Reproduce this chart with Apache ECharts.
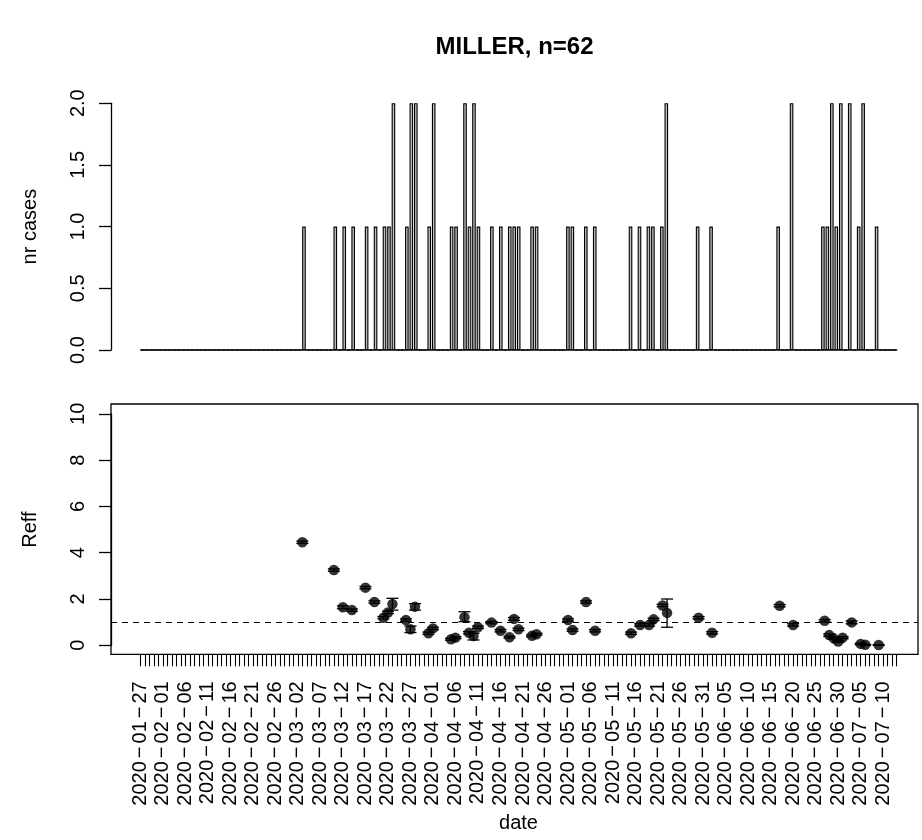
<!DOCTYPE html>
<html><head><meta charset="utf-8">
<script src="https://cdn.jsdelivr.net/npm/echarts@6/dist/echarts.min.js"></script>
<style>html,body{margin:0;padding:0;background:#fff}#c{width:922px;height:840px}</style>
</head><body><div id="c"></div>
<script>
// ---------- data ----------
const titleText = 'MILLER, n=62';
const startDate = '2020-01-27';
const endDate = '2020-07-13';

const caseDates = ['2020-03-03','2020-03-10','2020-03-12','2020-03-14','2020-03-17','2020-03-19','2020-03-21','2020-03-22','2020-03-23','2020-03-26',
  '2020-03-27','2020-03-28','2020-03-31','2020-04-01','2020-04-05','2020-04-06','2020-04-08','2020-04-09','2020-04-10','2020-04-11',
  '2020-04-14','2020-04-16','2020-04-18','2020-04-19','2020-04-20','2020-04-23','2020-04-24','2020-05-01','2020-05-02','2020-05-05',
  '2020-05-07','2020-05-15','2020-05-17','2020-05-19','2020-05-20','2020-05-22','2020-05-23','2020-05-30','2020-06-02','2020-06-17',
  '2020-06-20','2020-06-27','2020-06-28','2020-06-29','2020-06-30','2020-07-01','2020-07-03','2020-07-05','2020-07-06','2020-07-09'];
const caseCounts = [1,1,1,1,1,1,1,1,2,1,
  2,2,1,2,1,1,2,1,2,1,
  1,1,1,1,1,1,1,1,1,1,
  1,1,1,1,1,1,2,1,1,1,
  2,1,1,2,1,2,2,1,2,1];

const reffDates = caseDates;
const reffValues = [4.45,3.25,1.64,1.52,2.49,1.87,1.19,1.42,1.78,1.09,
  0.69,1.67,0.52,0.73,0.26,0.33,1.21,0.54,0.40,0.78,
  0.98,0.63,0.35,1.14,0.69,0.41,0.48,1.09,0.66,1.87,
  0.63,0.52,0.88,0.88,1.12,1.72,1.40,1.19,0.54,1.71,
  0.88,1.06,0.44,0.30,0.16,0.33,0.99,0.06,0.02,0.01];
const reffLow = [4.40,3.20,1.58,1.47,2.44,1.82,1.14,1.37,1.52,1.04,
  0.55,1.52,0.47,0.68,0.22,0.29,1.02,0.49,0.23,0.73,
  0.93,0.58,0.31,1.08,0.64,0.37,0.44,1.04,0.61,1.82,
  0.58,0.47,0.83,0.83,1.07,1.67,0.78,1.14,0.49,1.66,
  0.83,1.01,0.39,0.26,0.12,0.29,0.93,0.03,0.00,0.00];
const reffHigh = [4.50,3.30,1.70,1.57,2.54,1.92,1.24,1.47,2.03,1.14,
  0.83,1.80,0.57,0.78,0.30,0.37,1.45,0.59,0.52,0.83,
  1.03,0.68,0.39,1.20,0.74,0.45,0.52,1.14,0.71,1.92,
  0.68,0.57,0.93,0.93,1.17,1.77,2.00,1.24,0.59,1.76,
  0.93,1.11,0.49,0.34,0.20,0.37,1.05,0.09,0.04,0.02];
const reffThreshold = 1;

const tickLabels = ['2020-01-27','2020-02-01','2020-02-06','2020-02-11','2020-02-16','2020-02-21','2020-02-26','2020-03-02',
  '2020-03-07','2020-03-12','2020-03-17','2020-03-22','2020-03-27','2020-04-01','2020-04-06','2020-04-11','2020-04-16',
  '2020-04-21','2020-04-26','2020-05-01','2020-05-06','2020-05-11','2020-05-16','2020-05-21','2020-05-26','2020-05-31',
  '2020-06-05','2020-06-10','2020-06-15','2020-06-20','2020-06-25','2020-06-30','2020-07-05','2020-07-10'];

// ---------- helpers ----------
const FONT = "'Liberation Sans', Arial, Helvetica, sans-serif";
function toUTC(s){ return Date.UTC(+s.slice(0,4), +s.slice(5,7)-1, +s.slice(8,10)); }
const t0 = toUTC(startDate);
function dayIndex(s){ return Math.round((toUTC(s) - t0) / 86400000); }
const nDays = dayIndex(endDate) + 1;

const allDates = [];
for (let i = 0; i < nDays; i++) {
  const d = new Date(t0 + i * 86400000);
  allDates.push(d.toISOString().slice(0,10));
}
const dailyCounts = allDates.map(() => 0);
caseDates.forEach((s, i) => { dailyCounts[dayIndex(s)] = caseCounts[i]; });

const labelByDay = {};
tickLabels.forEach(s => { labelByDay[dayIndex(s)] = s; });

const reffPoints = reffDates.map((s, i) => [dayIndex(s), reffValues[i]]);
const reffBars = reffDates.map((s, i) => [dayIndex(s), reffLow[i], reffHigh[i]]);

// ---------- chart ----------
const chart = echarts.init(document.getElementById('c'), null, {renderer: 'canvas'});
const black = '#000';
const txt = {color: black, fontFamily: FONT, fontSize: 20};

chart.setOption({
  backgroundColor: '#fff',
  animation: false,
  graphic: [{
    type: 'text', x: 514.5, y: 47,
    style: {text: titleText, fill: black, font: "bold 24px " + FONT, textAlign: 'center', textVerticalAlign: 'middle'}
  }],
  grid: [
    {left: 140.7, top: 103.2, width: 756, height: 246.8},
    {left: 111, top: 404, width: 807, height: 250.3, show: true, borderColor: black, borderWidth: 1.3, backgroundColor: 'transparent'},
    {left: 140.3, top: 413.8, width: 756.4, height: 231.5}
  ],
  xAxis: [
    {gridIndex: 0, type: 'category', data: allDates, boundaryGap: true,
     axisLine: {show: true, onZero: false, lineStyle: {color: black, width: 1.5}}, axisTick: {show: false}, axisLabel: {show: false}, splitLine: {show: false}},
    {gridIndex: 1, type: 'value', min: 0, max: 1, show: false},
    {gridIndex: 2, type: 'value', min: 0, max: nDays - 1, interval: 1, offset: 9,
     axisLine: {show: false, onZero: false}, splitLine: {show: false},
     axisTick: {show: true, inside: false, length: 12, lineStyle: {color: black, width: 1.1}},
     axisLabel: {show: true, rotate: 90, margin: 27, interval: 0, hideOverlap: false, ...txt,
       formatter: v => { const s = labelByDay[v]; return s ? s.split('-').join('{m|\u2212}') : ''; },
       rich: {m: {fontFamily: FONT, fontSize: 20, color: black, padding: [0, 3, 0, 3]}}},
     name: 'date', nameLocation: 'middle', nameGap: 159, nameTextStyle: {...txt}}
  ],
  yAxis: [
    {gridIndex: 0, type: 'value', min: 0, max: 2, interval: 0.5, offset: 29.7,
     axisLine: {show: true, onZero: false, lineStyle: {color: black, width: 1.3}},
     axisTick: {show: true, inside: false, length: 12, lineStyle: {color: black, width: 1.3}},
     axisLabel: {rotate: 90, margin: 23, ...txt, formatter: v => v.toFixed(1)},
     splitLine: {show: false},
     name: 'nr cases', nameLocation: 'middle', nameRotate: 90, nameGap: 71, nameTextStyle: {...txt}},
    {gridIndex: 1, type: 'value', min: -0.4, max: 10.4, show: false},
    {gridIndex: 2, type: 'value', min: 0, max: 10, interval: 2, offset: 29.3,
     axisLine: {show: true, onZero: false, lineStyle: {color: black, width: 1.3}},
     axisTick: {show: true, inside: false, length: 12, lineStyle: {color: black, width: 1.3}},
     axisLabel: {rotate: 90, margin: 23, ...txt},
     splitLine: {show: false},
     name: 'Reff', nameLocation: 'middle', nameRotate: 90, nameGap: 71, nameTextStyle: {...txt}}
  ],
  series: [
    {type: 'bar', xAxisIndex: 0, yAxisIndex: 0, data: dailyCounts, barWidth: 3.6,
     itemStyle: {color: '#bebebe', borderColor: black, borderWidth: 1.1}},
    {type: 'line', xAxisIndex: 1, yAxisIndex: 1, data: [], silent: true,
     markLine: {silent: true, symbol: ['none', 'none'], label: {show: false},
       lineStyle: {color: black, width: 1.2, type: [6, 5]}, data: [{yAxis: reffThreshold}]}},
    {type: 'custom', xAxisIndex: 2, yAxisIndex: 2, data: reffBars, clip: false, z: 3,
     renderItem: (params, api) => {
       const x = api.value(0);
       const pl = api.coord([x, api.value(1)]);
       const ph = api.coord([x, api.value(2)]);
       const w = 6;
       const st = {stroke: black, lineWidth: 1.3};
       return {type: 'group', children: [
         {type: 'line', shape: {x1: pl[0], y1: pl[1], x2: ph[0], y2: ph[1]}, style: st},
         {type: 'line', shape: {x1: pl[0]-w, y1: pl[1], x2: pl[0]+w, y2: pl[1]}, style: st},
         {type: 'line', shape: {x1: ph[0]-w, y1: ph[1], x2: ph[0]+w, y2: ph[1]}, style: st}
       ]};
     }},
    {type: 'scatter', xAxisIndex: 2, yAxisIndex: 2, data: reffPoints, symbol: 'circle', symbolSize: 10.5,
     itemStyle: {color: black}, z: 4}
  ]
});
</script>
</body></html>
